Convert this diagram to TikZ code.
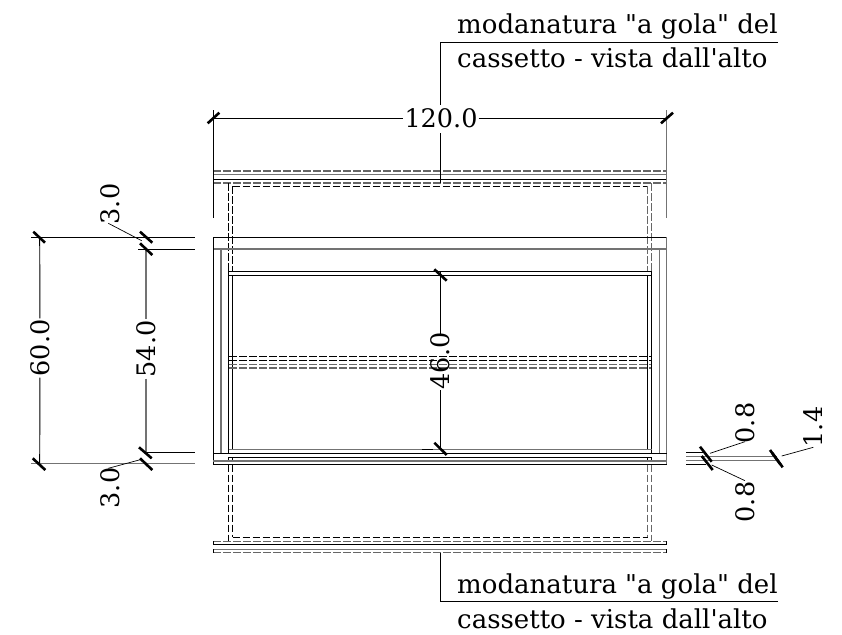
\documentclass[tikz,border=0pt]{standalone}
\usepackage{fontspec}
\setmainfont{DejaVu Serif}[Ligatures=TeXOff]
\tikzset{
  x=1pt,y=-1pt,
  thin line/.style={draw=black,line width=0.95pt},
  grey line/.style={draw=black!55,line width=1.2pt},
  dash line/.style={draw=black,line width=1pt,dash pattern=on 7.5pt off 2.5pt},
  dash grey/.style={draw=black!60,line width=1.3pt,dash pattern=on 7.5pt off 2.5pt},
  tick/.style={draw=black,line width=2.6pt},
  leader/.style={draw=black,line width=0.7pt},
  dimplain/.style={font=\fontsize{25.5}{25.5}\selectfont,inner sep=1pt},
  note/.style={font=\fontsize{26}{26}\selectfont,inner sep=0pt,anchor=base west},
}
\begin{document}
\begin{tikzpicture}
\useasboundingbox (0,0) rectangle (842,634);
% top moulding
\draw[dash grey] (213,171) -- (667,171);
\draw[grey line] (213,174.5) -- (667,174.5);
\draw[thin line] (213,179.3) -- (667,179.3);
\draw[dash grey] (213,183) -- (667,183);
\draw[dash line] (232.7,186.3) -- (647.7,186.3);
\draw[thin line] (213.3,171) -- (213.3,183) (666.7,171) -- (666.7,183);
% inner dashed verticals
\draw[dash line] (228.7,183.3) -- (228.7,271);
\draw[dash line] (232.7,186.3) -- (232.7,271);
\draw[dash grey] (647.7,186.3) -- (647.7,271);
\draw[dash grey] (651.7,183.3) -- (651.7,271);
\draw[dash line] (228.7,464.5) -- (228.7,541.3);
\draw[dash line] (232.7,464.5) -- (232.7,537.3);
\draw[dash grey] (647.7,464.5) -- (647.7,537.3);
\draw[dash grey] (651.7,464.5) -- (651.7,541.3);
% main box
\draw[thin line] (213.3,237) -- (666.7,237);
\draw[grey line] (213.3,249) -- (666.7,249);
\draw[thin line] (213.3,237) -- (213.3,464.5);
\draw[grey line] (666.7,237) -- (666.7,464.5);
\draw[grey line] (221,249) -- (221,453.3);
\draw[grey line] (659.3,249) -- (659.3,453.3);
\draw[thin line] (228.7,271) -- (228.7,453.3);
\draw[thin line] (232.7,275) -- (232.7,449.3);
\draw[thin line] (647.7,275) -- (647.7,449.3);
\draw[thin line] (651.7,271) -- (651.7,453.3);
\draw[thin line] (228.7,457) -- (228.7,461) (232.7,457) -- (232.7,461) (647.7,457) -- (647.7,461) (651.7,457) -- (651.7,461);
% shelf
\draw[thin line] (228.7,271.3) -- (651.7,271.3);
\draw[thin line] (228.7,275.3) -- (651.7,275.3);
% middle dashed
\draw[dash line] (229,356.7) -- (651,356.7);
\draw[dash line] (229,360.2) -- (651,360.2);
\draw[dash grey] (229,364.3) -- (651,364.3);
\draw[dash grey] (229,368) -- (651,368);
% bottom rails
\draw[grey line] (228.7,449.3) -- (651.7,449.3);
\draw[thin line] (213.3,453.3) -- (666.7,453.3);
\draw[thin line] (228.7,457.2) -- (651.7,457.2);
\draw[grey line] (213.3,461) -- (666.7,461);
\draw[thin line] (213.3,464.3) -- (666.7,464.3);
% bottom moulding
\draw[dash line] (232.7,537.3) -- (647.7,537.3);
\draw[dash grey] (213,541.3) -- (667,541.3);
\draw[thin line] (213,544.7) -- (667,544.7);
\draw[grey line] (213,549.3) -- (667,549.3);
\draw[dash grey] (213,552.7) -- (667,552.7);
\draw[thin line] (213.3,541.3) -- (213.3,544.7) (666.7,541.3) -- (666.7,544.7) (213.3,549.3) -- (213.3,552.7) (666.7,549.3) -- (666.7,552.7);
% dim 120
\coordinate (wl) at (213.3,118);
\coordinate (wr) at (666.7,118);
\node[dimplain] (w) at (441,118) {120.0};
\draw[thin line] (wl) -- (w) (w) -- (wr);
\draw[thin line] (213.3,110) -- (213.3,218);
\draw[grey line] (666.7,110) -- (666.7,218);
\draw[tick] (207.7,123.3) -- (219.3,112.7);
\draw[tick] (661,123.3) -- (673,112.7);
% leaders
\coordinate (lt) at (440,42.5);
\coordinate (lte) at (778,42.5);
\coordinate (lb) at (440,601.7);
\coordinate (lbe) at (778,601.7);
\draw[thin line] (lte) -- (lt) -- (440,105) (440,133) -- (440,183);
\draw[thin line] (lbe) -- (lb) -- (440,552.7);
\node[note] (n1) at (457,33.5) {modanatura "a gola" del};
\node[note] (n2) at (457,67) {cassetto - vista dall'alto};
\node[note] (n3) at (457,593) {modanatura "a gola" del};
\node[note] (n4) at (457,628) {cassetto - vista dall'alto};
% left dims
\draw[thin line] (31,237.3) -- (195,237.3);
\draw[thin line] (138,249) -- (195,249);
\draw[grey line] (31,463.7) -- (195,463.7);
\draw[thin line] (147,452.8) -- (195,452.8);
\node[dimplain,rotate=90] (d60) at (40,348) {60.0};
\node[dimplain,rotate=90] (d54) at (146,349) {54.0};
\draw[thin line] (39.7,237) -- (d60) (d60) -- (39.7,463.5);
\draw[grey line] (146,249) -- (d54) (d54) -- (146,453);
\draw[tick] (33.3,231.7) -- (45,242.7);
\draw[tick] (32.7,458.3) -- (45.3,470);
\draw[tick] (140,231.7) -- (152.3,242.7);
\draw[tick] (140,243.3) -- (152.3,255);
\draw[tick] (139,447.3) -- (151.7,458.3);
\draw[tick] (140,458.3) -- (152.3,470);
\node[dimplain,rotate=90] (d3a) at (110,204) {3.0};
\node[dimplain,rotate=90] (d3b) at (110,488) {3.0};
\draw[leader] (108.3,223.3) -- (141.7,240.7);
\draw[leader] (108.3,468.3) -- (141.7,459.3);
% central dim
\node[dimplain,rotate=90] (d46) at (440,361) {46.0};
\draw[thin line] (440,271) -- (440,334) (440,390) -- (440,449);
\draw[tick] (434.3,269.3) -- (446.7,280.7);
\draw[tick] (434.3,442.7) -- (446.7,455);
\draw[thin line] (421.7,449.3) -- (433,449.3);
% right dims
\draw[thin line] (686,452.7) -- (706,452.7);
\draw[grey line] (686,456.7) -- (777,456.7);
\draw[grey line] (686,460.7) -- (777,460.7);
\draw[thin line] (686,464.3) -- (706,464.3);
\draw[tick] (700,446.7) -- (711.7,461.7);
\draw[tick] (701.7,456) -- (712.7,470);
\draw[tick] (770,450) -- (780.5,464.5);
\draw[tick] (772.2,453) -- (782.7,467.3);
\node[dimplain,rotate=90] (r1) at (745,423) {0.8};
\node[dimplain,rotate=90] (r2) at (745,502) {0.8};
\node[dimplain,rotate=90] (r3) at (813.5,427) {1.4};
\draw[leader] (710,453.3) -- (745,441.7);
\draw[leader] (711.7,465) -- (745,480.7);
\draw[leader] (781.7,456) -- (813.3,447.3);
\end{tikzpicture}
\end{document}
